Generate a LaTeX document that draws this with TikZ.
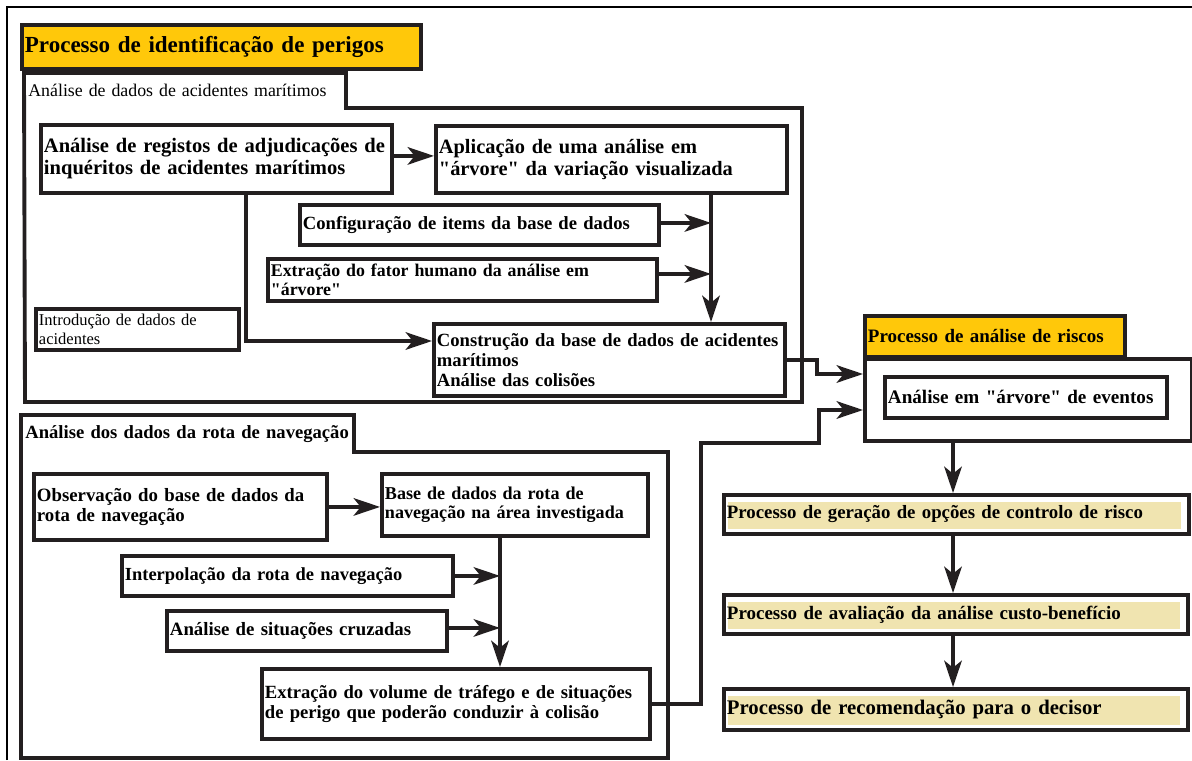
\documentclass[tikz,border=0pt]{standalone}
\usepackage{fontspec}
\setmainfont{Liberation Serif}[Ligatures=TeXOff]
\usepackage{tikz}
\usetikzlibrary{arrows.meta}
\usetikzlibrary{positioning}
\usetikzlibrary{calc}
\hyphenpenalty=10000
\definecolor{boxline}{HTML}{231F20}
\definecolor{orangefill}{HTML}{FFC80A}
\definecolor{beigefill}{HTML}{F0E4B0}
\tikzset{>={Stealth[length=15pt, width=10pt, inset=4pt]}}
\newcommand{\fs}[1]{\bfseries\fontsize{#1}{1.08\dimexpr #1pt\relax}\selectfont}
\newcommand{\fr}[1]{\fontsize{#1}{1.12\dimexpr #1pt\relax}\selectfont}
\tikzset{
    pbox/.style={draw=boxline, line width=2.2pt, fill=white, anchor=north west, align=left,
        inner xsep=0.06cm, inner ysep=1pt, font=\fs{11}},
    tabtext/.style={anchor=north west, align=left, inner xsep=0.08cm, inner ysep=1pt},
    hbox/.style={pbox, fill=orangefill},
    obox/.style={pbox, path picture={
        \fill[beigefill] ($(path picture bounding box.south west)+(4,-5)$) rectangle ($(path picture bounding box.north east)+(-8,7)$);}},
    group/.style={draw=boxline, line width=2.2pt},
    conn/.style={draw=boxline, line width=2pt},
    frame/.style={draw=black, line width=1.1pt},
}

\begin{document}
\begin{tikzpicture}[x=0.02cm, y=-0.02cm]
		\useasboundingbox (0,0) rectangle (1192,760);
		\draw[frame] (7,760) -- (7,7) -- (1192,7);
		\node[hbox, text width=7.86cm, minimum height=0.88cm, font=\fs{13.1}] (perigos) at (20,23) {Processo de identificação de perigos};

		\draw[group] (24,73) -- (346,73) -- (346,108) -- (802,108) -- (802,402) -- (25,402) -- cycle;
		\node[tabtext, text width=6.28cm, minimum height=0.7cm, font=\fr{10.15}] (acidtab) at (24,73) {Análise de dados de acidentes marítimos};
		\node[pbox, text width=6.9cm, minimum height=1.36cm, font=\fs{11.7}] (registos) at (39,123) {Análise de registos de adjudicações de\\inquéritos de acidentes marítimos};
		\node[pbox, text width=6.9cm, minimum height=1.34cm, font=\fs{11.6}] (aplic) at (434,124) {Aplicação de uma análise em\\"árvore" da variação visualizada};
		\node[pbox, text width=7.06cm, minimum height=0.8cm, font=\fs{10.6}] (config) at (298,203) {Configuração de items da base de dados};
		\node[pbox, text width=7.66cm, minimum height=0.84cm, font=\fs{10.15}] (fator) at (266,257) {Extração do fator humano da análise em\\"árvore"};
		\node[pbox, text width=3.94cm, minimum height=0.82cm, font=\fr{9.4}] (introd) at (34,307) {Introdução de dados de\\acidentes};
		\node[pbox, text width=6.9cm, minimum height=1.44cm, font=\fs{10.6}] (constr) at (432,322) {Construção da base de dados de acidentes\\marítimos\\Análise das colisões};

		\draw[group] (21,415) -- (354,415) -- (354,452) -- (668,452) -- (668,758) -- (21,758) -- cycle;
		\node[tabtext, text width=6.5cm, minimum height=0.74cm, font=\fs{10.6}] (rotatab) at (21,415) {Análise dos dados da rota de navegação};
		\node[pbox, text width=5.74cm, minimum height=1.32cm, font=\fs{10.7}] (observ) at (32,472) {Observação do base de dados da\\rota de navegação};
		\node[pbox, text width=5.2cm, minimum height=1.24cm, font=\fs{10.3}] (basedados) at (380,472) {Base de dados da rota de\\navegação na área investigada};
		\node[pbox, text width=6.5cm, minimum height=0.8cm, font=\fs{10.5}] (interp) at (120,554) {Interpolação da rota de navegação};
		\node[pbox, text width=5.48cm, minimum height=0.8cm, font=\fs{10.7}] (cruz) at (165,609) {Análise de situações cruzadas};
		\node[pbox, text width=7.64cm, minimum height=1.4cm, font=\fs{10.6}] (volume) at (260,667) {Extração do volume de tráfego e de situações\\de perigo que poderão conduzir à colisão};

		\node[hbox, text width=5.08cm, minimum height=0.82cm, font=\fs{10.8}] (riscotab) at (863,314) {Processo de análise de riscos};
		\node[pbox, minimum width=6.54cm, minimum height=1.64cm] (risco) at (863,357) {};
		\node[pbox, text width=5.52cm, minimum height=0.82cm, font=\fs{10.9}] (eventos) at (883,375) {Análise em "árvore" de eventos};
		\node[obox, text width=9.18cm, minimum height=0.78cm, font=\fs{10.7}] (geracao) at (722,493) {Processo de geração de opções de controlo de risco};
		\node[obox, text width=9.16cm, minimum height=0.78cm, font=\fs{10.8}] (avaliacao) at (722,593) {Processo de avaliação da análise custo-benefício};
		\node[obox, text width=9.16cm, minimum height=0.82cm, font=\fs{11.8}] (recomend) at (722,687) {Processo de recomendação para o decisor};

		\coordinate (t1) at (711,0);
		\coordinate (t2) at (246,0);
		\coordinate (t3) at (500,0);
		\coordinate (t4) at (953,0);
		\coordinate (b1) at (817,0);
		\coordinate (b2) at (701,443);
		\coordinate (b3) at (819,0);

		\draw[conn,->] ($(registos.east)+(0,-3)$) -- ($(registos.east -| aplic.west)+(0,-3)$);
		\draw[conn,->] (aplic.south -| t1) -- (constr.north -| t1);
		\draw[conn,->] ($(config.east)+(0,-2)$) -- ($(config.east -| t1)+(0,-2)$);
		\draw[conn,->] ($(fator.east)+(0,-6)$) -- ($(fator.east -| t1)+(0,-6)$);
		\draw[conn,->] (registos.south -| t2) |- ($(constr.north west)+(0,19)$);
		\draw[conn,->] (constr.east) -- (constr.east -| b1) |- ($(risco.north west)+(0,17)$);

		\draw[conn,->] (observ.east) -- (observ.east -| basedados.west);
		\draw[conn,->] (basedados.south -| t3) -- (volume.north -| t3);
		\draw[conn,->] (interp.east) -- (interp.east -| t3);
		\draw[conn,->] ($(cruz.east)+(0,-3)$) -- ($(cruz.east -| t3)+(0,-3)$);
		\draw[conn,->] (volume.east) -| (b2) -- (b2 -| b3) |- ($(risco.north west)+(0,53)$);

		\draw[conn,->] (risco.south -| t4) -- (geracao.north -| t4);
		\draw[conn,->] (geracao.south -| t4) -- (avaliacao.north -| t4);
		\draw[conn,->] (avaliacao.south -| t4) -- (recomend.north -| t4);
	\end{tikzpicture}
\end{document}
